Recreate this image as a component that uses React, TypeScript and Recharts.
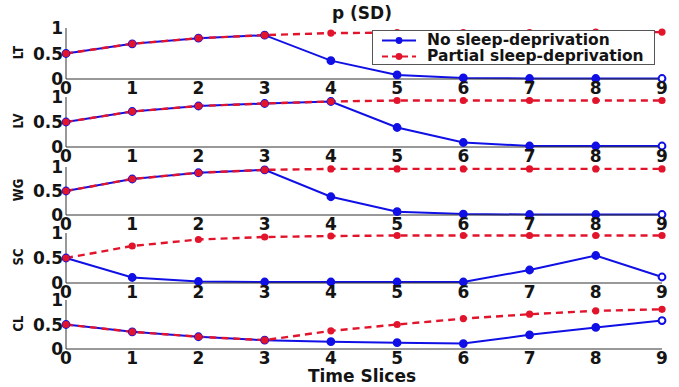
import React from 'react';
import { LineChart, Line, XAxis, YAxis, Legend, Label } from 'recharts';

// ---- data ----
const timeSlices = [0, 1, 2, 3, 4, 5, 6, 7, 8, 9];
const yTicks = [0, 0.5, 1];
const panelNames = ['LT', 'LV', 'WG', 'SC', 'CL'];
const seriesNames = ['No sleep-deprivation', 'Partial sleep-deprivation'];
const titleText = 'p (SD)';
const xAxisTitle = 'Time Slices';

const noSD_LT = [0.5, 0.69, 0.8, 0.86, 0.36, 0.08, 0.02, 0.01, 0.01, 0.01];
const partial_LT = [0.5, 0.69, 0.8, 0.86, 0.9, 0.91, 0.91, 0.91, 0.92, 0.92];

const noSD_LV = [0.5, 0.71, 0.82, 0.87, 0.91, 0.39, 0.09, 0.02, 0.02, 0.02];
const partial_LV = [0.5, 0.71, 0.82, 0.87, 0.91, 0.93, 0.93, 0.93, 0.93, 0.93];

const noSD_WG = [0.5, 0.75, 0.88, 0.94, 0.38, 0.07, 0.02, 0.01, 0.01, 0.01];
const partial_WG = [0.5, 0.75, 0.88, 0.94, 0.96, 0.96, 0.96, 0.96, 0.96, 0.96];

const noSD_SC = [0.5, 0.11, 0.03, 0.02, 0.02, 0.02, 0.02, 0.26, 0.55, 0.12];
const partial_SC = [0.5, 0.74, 0.87, 0.92, 0.94, 0.95, 0.95, 0.95, 0.95, 0.95];

const noSD_CL = [0.5, 0.35, 0.25, 0.18, 0.15, 0.13, 0.11, 0.29, 0.44, 0.58];
const partial_CL = [0.5, 0.35, 0.25, 0.18, 0.37, 0.5, 0.62, 0.71, 0.78, 0.81];

const noSDSeries = [noSD_LT, noSD_LV, noSD_WG, noSD_SC, noSD_CL];
const partialSeries = [partial_LT, partial_LV, partial_WG, partial_SC, partial_CL];

// ---- styles ----
const BLUE = '#1010e6';
const RED = '#e2142c';
const FONT = '"DejaVu Sans", Verdana, sans-serif';
const TEXT = '#141414';
const panelBox = [
  { top: 28, bottom: 79 },
  { top: 97, bottom: 147 },
  { top: 167, bottom: 215 },
  { top: 233, bottom: 283 },
  { top: 300, bottom: 349 },
];

const blueDot = (props: any) => {
  const { cx, cy, index } = props;
  const last = index === timeSlices.length - 1;
  return (
    <circle key={`b${index}`} cx={cx} cy={cy} r={3.4} fill={last ? '#fff' : BLUE} stroke={BLUE} strokeWidth={2} />
  );
};

const redDot = (props: any) => {
  const { cx, cy, index } = props;
  return <circle key={`r${index}`} cx={cx} cy={cy} r={3.6} fill={RED} stroke="none" />;
};

const renderLegend = (props: any) => {
  const payload = props.payload || [];
  return (
    <div
      style={{
        width: 283,
        height: 35,
        border: '1px solid #555',
        background: '#fff',
        boxSizing: 'border-box',
        fontFamily: FONT,
        fontWeight: 'bold',
        fontSize: 15.5,
        color: TEXT,
        paddingTop: 2,
      }}
    >
      {payload.map((entry: any, i: number) => (
        <div key={i} style={{ display: 'flex', alignItems: 'center', height: 15.5, lineHeight: '15.5px' }}>
          <svg width={54} height={15} style={{ flex: 'none' }}>
            <line
              x1={9}
              x2={43}
              y1={7.5}
              y2={7.5}
              stroke={entry.color}
              strokeWidth={2}
              strokeDasharray={i === 1 ? '6 4' : undefined}
            />
            <circle cx={26} cy={7.5} r={3.4} fill={entry.color} />
          </svg>
          <span style={{ whiteSpace: 'nowrap' }}>{entry.value}</span>
        </div>
      ))}
    </div>
  );
};

function Panel({ idx }: { idx: number }) {
  const name = panelNames[idx];
  const a = noSDSeries[idx];
  const b = partialSeries[idx];
  const { top, bottom } = panelBox[idx];
  const data = timeSlices.map((t, i) => ({ t, a: a[i], b: b[i] }));
  const mt = 10;
  const xh = 22;
  const h = mt + (bottom - top) + xh;
  const tickStyle = { fill: TEXT, fontSize: 17, fontWeight: 'bold', fontFamily: FONT };
  return (
    <div style={{ position: 'absolute', left: 0, top: top - mt }}>
      <LineChart width={679} height={h} data={data} margin={{ top: mt, right: 17, bottom: 0, left: 0 }}>
        <XAxis
          dataKey="t"
          type="number"
          domain={[0, 9]}
          ticks={timeSlices}
          interval={0}
          tickLine={false}
          tickSize={0}
          tickMargin={3}
          height={xh}
          axisLine={{ stroke: '#333', strokeWidth: 1 }}
          tick={tickStyle}
        />
        <YAxis
          type="number"
          domain={[0, 1]}
          ticks={yTicks}
          interval={0}
          width={66}
          tickLine={false}
          tickSize={0}
          tickMargin={3}
          axisLine={{ stroke: '#333', strokeWidth: 1 }}
          tick={tickStyle}
          tickFormatter={(v: number) => String(v)}
        >
          <Label
            content={(p: any) => {
              const vb = p.viewBox || { y: 0, height: 0 };
              const cy = vb.y + vb.height / 2 - 1;
              return (
                <text
                  transform={`translate(18, ${cy}) rotate(-90) scale(0.8, 1)`}
                  textAnchor="middle"
                  dominantBaseline="central"
                  fontSize={14.5}
                  fontWeight="bold"
                  fontFamily={FONT}
                  fill={TEXT}
                >
                  {name}
                </text>
              );
            }}
          />
        </YAxis>
        <Line
          dataKey="a"
          name={seriesNames[0]}
          stroke={BLUE}
          strokeWidth={2}
          dot={blueDot}
          isAnimationActive={false}
        />
        <Line
          dataKey="b"
          name={seriesNames[1]}
          stroke={RED}
          strokeWidth={2.4}
          strokeDasharray="7 5"
          dot={redDot}
          isAnimationActive={false}
        />
        {idx === 0 && (
          <Legend
            content={renderLegend}
            layout="horizontal"
            verticalAlign="middle"
            align="center"
            wrapperStyle={{ position: 'absolute', left: 372, top: 30 - (top - mt), width: 283, height: 35 }}
          />
        )}
      </LineChart>
    </div>
  );
}

export default function App() {
  return (
    <div style={{ position: 'absolute', left: 0, top: 0, width: 679, height: 387, background: '#fff' }}>
      {panelNames.map((_, i) => (
        <Panel key={i} idx={i} />
      ))}
      <div
        style={{
          position: 'absolute',
          left: 262,
          width: 200,
          top: 3,
          lineHeight: '20px',
          textAlign: 'center',
          fontFamily: FONT,
          fontWeight: 'bold',
          fontSize: 17,
          color: TEXT,
        }}
      >
        {titleText}
      </div>
      <div
        style={{
          position: 'absolute',
          left: 262,
          width: 200,
          top: 366,
          lineHeight: '20px',
          textAlign: 'center',
          fontFamily: FONT,
          fontWeight: 'bold',
          fontSize: 17,
          color: TEXT,
        }}
      >
        {xAxisTitle}
      </div>
    </div>
  );
}
